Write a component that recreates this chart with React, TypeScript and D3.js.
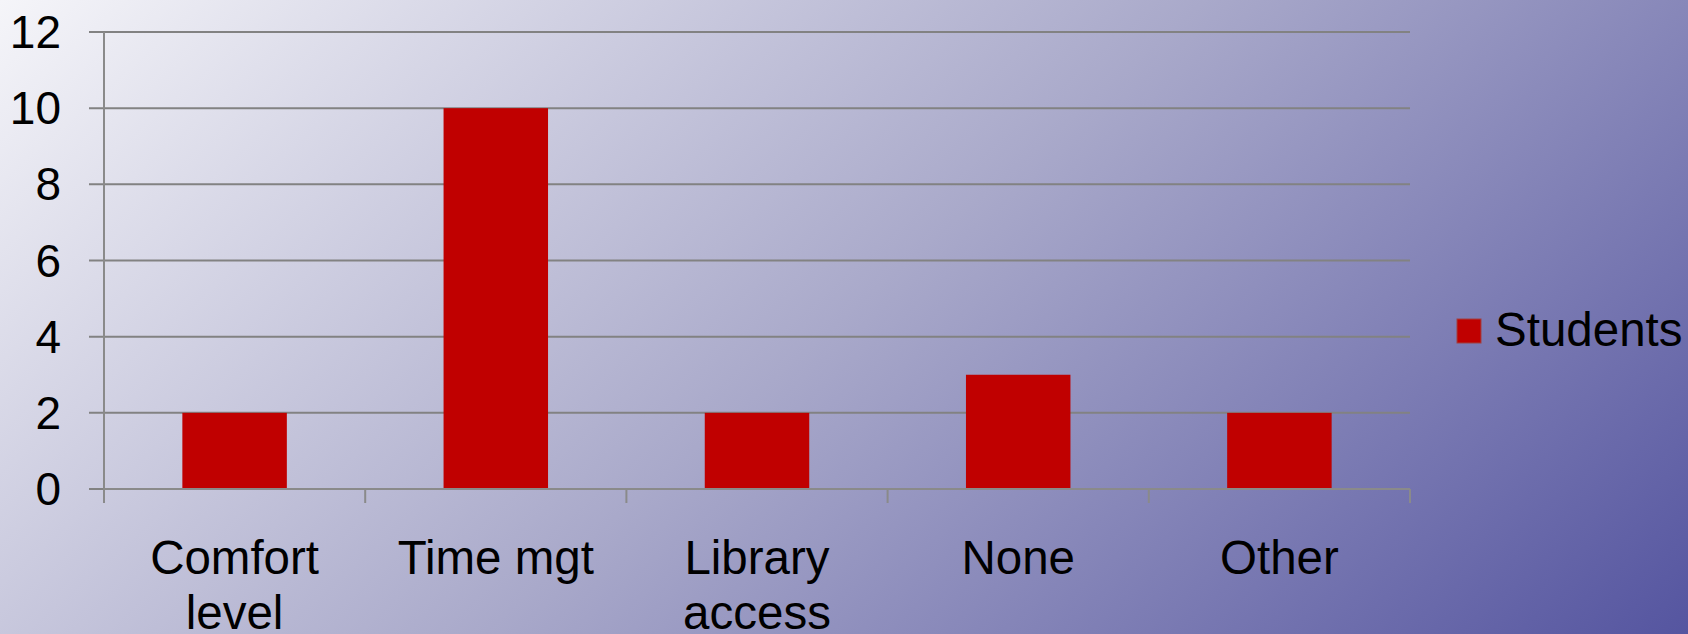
import React from "react";
import * as d3 from "d3";

const categories: string[][] = [["Comfort", "level"], ["Time mgt"], ["Library", "access"], ["None"], ["Other"]];
const students: number[] = [2, 10, 2, 3, 2];
const yTicks: number[] = [0, 2, 4, 6, 8, 10, 12];
const seriesName = "Students";

const W = 1688;
const H = 634;

export default function App() {
  const left = 104, right = 1410, top = 32, bottom = 489;
  const x = d3.scaleBand<number>().domain(d3.range(categories.length)).range([left, right]).paddingInner(0.6).paddingOuter(0.3);
  const band = d3.scaleBand<number>().domain(d3.range(categories.length)).range([left, right]);
  const y = d3.scaleLinear().domain([0, 12]).range([bottom, top]);

  // gradient: t = 0.7*x/W + 0.3*y/H
  const a = 0.7 / W, b = 0.3 / H;
  const n = a * a + b * b;
  const gx2 = a / n, gy2 = b / n;

  const font = "'Liberation Sans', Arial, sans-serif";
  const boundaries = d3.range(categories.length + 1).map((i) => left + i * band.bandwidth());

  return (
    <svg width={W} height={H} style={{ position: "absolute", left: 0, top: 0 }} fontFamily={font}>
      <defs>
        <linearGradient id="bg" gradientUnits="userSpaceOnUse" x1={0} y1={0} x2={gx2} y2={gy2}>
          <stop offset="0" stopColor="#f5f5f9" />
          <stop offset="0.5" stopColor="#a9a9ca" />
          <stop offset="1" stopColor="#5555a0" />
        </linearGradient>
      </defs>
      <rect x={0} y={0} width={W} height={H} fill="url(#bg)" />
      {yTicks.map((t) => (
        <g key={t}>
          <line x1={89} x2={right} y1={y(t)} y2={y(t)} stroke="#828282" strokeWidth={2} />
          <text x={61} y={y(t)} textAnchor="end" dominantBaseline="central" fontSize={46} fill="#000">
            {t}
          </text>
        </g>
      ))}
      <line x1={left} x2={left} y1={top} y2={bottom + 14} stroke="#8a8a8a" strokeWidth={2} />
      {boundaries.map((bx, i) => (
        <line key={i} x1={bx} x2={bx} y1={bottom} y2={bottom + 14} stroke="#8a8a8a" strokeWidth={2} />
      ))}
      {students.map((v, i) => (
        <rect key={i} x={x(i)} y={y(v)} width={x.bandwidth()} height={y(0) - y(v)} fill="#c00000" />
      ))}
      <line x1={left} x2={right} y1={bottom} y2={bottom} stroke="#8a8a8a" strokeWidth={2} />
      {categories.map((lines, i) => (
        <text key={i} textAnchor="middle" fontSize={47.5} fill="#000">
          {lines.map((l, j) => (
            <tspan key={j} x={(band(i) as number) + band.bandwidth() / 2} y={574 + j * 55}>
              {l}
            </tspan>
          ))}
        </text>
      ))}
      <rect x={1457} y={319} width={24} height={24} fill="#c00000" stroke="#a04040" strokeWidth={1} />
      <text x={1495} y={346} fontSize={47.5} fill="#000">
        {seriesName}
      </text>
    </svg>
  );
}
